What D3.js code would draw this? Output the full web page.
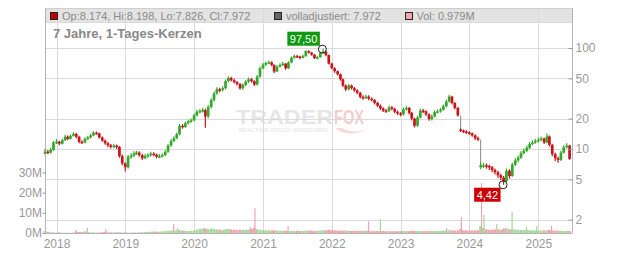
<!DOCTYPE html>
<html><head><meta charset="utf-8">
<script src="https://cdn.jsdelivr.net/npm/d3@7"></script>
<style>
html,body{margin:0;padding:0;background:#fff;}
svg{display:block;font-family:"Liberation Sans",Arial,sans-serif;}
</style></head><body>
<svg id="c" width="632" height="253"></svg>
<script>
// ---------- data (semi-monthly periods, 1st and 16th of each month from Nov 2017) ----------
const startYear = 2017, startMonth = 10; // November 2017 (0-based month)
const firstOpen = 9.0;
const closes = [
 9.4, 9.2, 9.8, 11.6, 11.8, 11.3, 12.2, 13.2, 12.6, 13.5, 14.1, 13.2,
 11.8, 11.6, 12.6, 13.0, 13.6, 14.5, 14.3, 13.0, 12.1, 11.4, 10.9, 10.5,
 10.8, 10.5, 8.5, 7.2, 6.6, 8.4, 8.6, 9.0, 9.2, 8.7, 8.1, 8.5,
 8.7, 9.0, 8.8, 8.4, 8.5, 8.7, 9.4, 10.8, 12.0, 12.8, 14.0, 17.0,
 16.5, 18.0, 18.8, 19.2, 21.5, 23.4, 23.8, 24.3, 21.0, 26.0, 30.5, 35.5,
 39.0, 38.5, 40.0, 47.0, 50.5, 48.0, 46.0, 44.0, 39.9, 43.0, 46.5, 49.0,
 47.0, 43.5, 52.0, 63.0, 68.5, 71.0, 72.0, 68.0, 58.5, 65.5, 68.0, 70.0,
 63.0, 72.0, 80.0, 83.0, 82.5, 80.0, 83.0, 93.0, 90.0, 86.0, 79.5, 81.0,
 89.0, 92.0, 85.0, 70.0, 63.0, 59.0, 55.0, 49.0, 42.5, 39.0, 42.5, 40.0,
 38.0, 36.0, 32.8, 32.0, 33.0, 31.5, 30.5, 28.6, 26.8, 25.2, 24.0, 23.8,
 25.8, 25.0, 23.4, 22.5, 22.0, 24.8, 25.5, 22.8, 20.0, 17.0, 20.5, 24.0,
 23.6, 22.0, 19.8, 21.0, 23.2, 23.6, 24.5, 26.5, 29.5, 33.0, 28.5, 25.5,
 21.5, 15.2, 14.9, 14.6, 14.3, 13.6, 12.8, 12.4, 6.9, 6.9, 6.8, 6.6,
 6.2, 5.9, 5.5, 5.2, 4.8, 6.1, 5.4, 7.0, 7.7, 8.2, 9.1, 9.6,
 10.3, 11.2, 11.6, 12.0, 12.3, 12.7, 11.6, 13.3, 11.0, 8.9, 8.1, 7.8,
 9.2, 10.4, 10.8, 7.97
];
const highs = [
 10.0, 9.8, 10.3, 12.0, 12.5, 12.1, 12.6, 13.8, 13.6, 13.9, 14.7, 14.4,
 13.5, 12.2, 13.0, 13.5, 14.1, 15.0, 14.9, 14.5, 13.3, 12.4, 11.7, 11.2,
 11.3, 11.1, 10.7, 8.8, 7.4, 8.7, 9.1, 9.5, 9.6, 9.5, 8.9, 8.9,
 9.1, 9.4, 9.3, 9.0, 8.9, 9.1, 9.8, 11.2, 12.5, 13.4, 14.6, 17.8,
 17.6, 18.7, 19.5, 20.0, 22.3, 24.4, 24.9, 25.4, 25.0, 27.2, 31.8, 37.0,
 40.8, 40.5, 41.8, 48.8, 52.5, 52.0, 49.5, 47.2, 45.0, 44.5, 48.0, 51.0,
 50.5, 48.0, 54.0, 65.5, 71.0, 73.5, 75.0, 74.0, 69.0, 67.5, 70.5, 72.5,
 71.0, 74.0, 82.5, 86.0, 85.5, 84.0, 86.0, 95.5, 95.0, 91.5, 87.0, 84.0,
 91.0, 97.5, 94.0, 86.0, 71.5, 64.5, 60.0, 56.0, 50.0, 43.5, 44.0, 43.5,
 41.0, 39.0, 36.8, 34.0, 34.5, 34.0, 32.4, 31.2, 29.3, 27.6, 25.9, 24.9,
 26.8, 26.6, 25.6, 24.0, 23.2, 25.8, 26.6, 26.0, 23.3, 20.4, 21.3, 25.0,
 24.9, 24.2, 22.6, 21.9, 24.1, 24.6, 25.5, 27.6, 30.8, 34.5, 33.6, 29.2,
 26.0, 16.0, 15.6, 15.3, 15.0, 14.6, 14.0, 13.3, 7.4, 7.3, 7.2, 7.0,
 6.8, 6.4, 6.1, 5.7, 5.4, 6.4, 6.3, 7.3, 8.1, 8.6, 9.5, 10.1,
 10.8, 11.7, 12.2, 12.6, 12.9, 13.3, 13.0, 14.2, 13.6, 11.3, 9.2, 8.4,
 9.6, 10.9, 11.4, 11.0
];
const lows = [
 8.8, 8.9, 9.0, 9.6, 11.2, 10.9, 11.1, 12.0, 12.2, 12.4, 13.3, 12.8,
 11.4, 11.2, 11.4, 12.3, 12.7, 13.4, 13.9, 12.7, 11.8, 11.0, 10.4, 10.1,
 10.2, 10.0, 8.2, 6.9, 6.0, 6.4, 8.0, 8.3, 8.7, 8.4, 7.8, 7.9,
 8.2, 8.4, 8.5, 8.1, 8.1, 8.3, 8.5, 9.2, 10.5, 11.7, 12.5, 13.7,
 15.9, 16.2, 17.5, 18.2, 18.8, 21.0, 22.6, 23.0, 16.2, 20.2, 25.2, 29.6,
 34.5, 36.5, 37.2, 39.0, 45.8, 46.5, 44.5, 42.5, 38.5, 38.6, 42.0, 45.0,
 45.5, 42.0, 42.5, 51.0, 61.5, 66.5, 69.0, 66.0, 56.5, 57.5, 64.0, 66.5,
 61.0, 62.0, 70.5, 78.5, 80.0, 77.5, 78.5, 82.0, 88.0, 84.0, 77.5, 77.5,
 80.0, 87.5, 83.0, 68.5, 61.5, 57.0, 53.5, 47.5, 41.0, 37.5, 38.0, 38.8,
 36.8, 34.8, 31.6, 30.8, 31.2, 30.4, 29.5, 27.6, 26.0, 24.3, 23.2, 22.8,
 23.2, 24.2, 22.6, 21.7, 21.1, 21.5, 24.0, 22.0, 19.3, 16.3, 16.6, 20.0,
 22.7, 21.2, 19.0, 19.2, 20.5, 22.5, 22.9, 23.9, 25.9, 28.8, 27.6, 24.6,
 21.0, 14.7, 14.4, 14.1, 13.8, 13.2, 12.3, 12.0, 6.3, 6.5, 6.4, 6.2,
 5.9, 5.6, 5.2, 4.9, 4.42, 4.7, 5.1, 5.3, 6.8, 7.4, 8.0, 8.8,
 9.3, 10.0, 10.9, 11.3, 11.6, 11.9, 11.2, 11.4, 10.6, 8.5, 7.6, 7.3,
 7.6, 9.0, 10.1, 7.8
];
const volumes = [ // millions
 1.0, 0.6, 0.3, 0.3, 0.2, 0.3, 0.1, 0.1, 0.1, 0.1, 0.2, 0.6,
 0.5, 0.5, 0.8, 0.6, 0.3, 0.3, 0.2, 0.2, 0.4, 0.5, 0.3, 0.3,
 0.3, 0.3, 0.3, 0.2, 0.3, 0.2, 0.2, 0.3, 0.2, 0.3, 0.3, 0.5,
 0.6, 0.6, 0.7, 0.7, 0.6, 0.8, 0.9, 1.1, 1.2, 1.2, 1.3, 1.5,
 1.2, 1.1, 1.0, 1.0, 1.2, 1.6, 2.0, 2.2, 2.3, 2.0, 2.2, 2.0,
 1.8, 1.6, 1.6, 1.8, 2.0, 1.8, 1.6, 1.5, 1.6, 1.5, 1.6, 1.6,
 2.0, 2.6, 1.8, 1.6, 1.5, 1.4, 1.3, 1.2, 1.4, 1.2, 1.1, 1.1,
 1.2, 1.0, 1.0, 1.0, 1.1, 1.0, 1.0, 1.2, 1.2, 1.1, 1.0, 1.1,
 1.2, 1.3, 1.4, 1.6, 1.4, 1.3, 1.2, 1.2, 1.1, 1.2, 1.1, 1.0,
 1.0, 1.1, 1.0, 1.0, 1.2, 1.0, 0.9, 0.9, 1.0, 0.9, 1.0, 0.9,
 0.9, 0.9, 0.8, 0.9, 0.9, 1.0, 0.9, 0.9, 1.0, 1.1, 1.0, 0.9,
 0.9, 0.9, 1.0, 1.0, 0.9, 0.9, 1.0, 1.2, 1.3, 1.4, 1.3, 1.2,
 1.3, 2.0, 1.4, 1.3, 1.2, 1.2, 1.3, 1.4, 3.5, 2.5, 1.8, 1.6,
 1.6, 1.8, 1.8, 1.6, 2.2, 2.4, 1.8, 1.9, 1.7, 1.6, 1.5, 1.5,
 1.5, 1.4, 1.3, 1.2, 1.3, 1.2, 1.3, 1.3, 1.5, 1.3, 1.2, 1.1,
 1.1, 1.0, 1.1, 1.0
];
// opening gaps (period start date -> open after the gap)
const gapDates = ["2023-11-16", "2024-03-01"];
const gapOpens = [15.6, 6.6];
// single-day volume spikes
const spikeDates = ["2018-04-15","2018-06-13","2018-09-20","2019-09-15","2019-10-05","2020-10-25","2020-11-19","2021-05-14","2022-07-15","2022-09-16","2023-09-02","2023-11-20","2024-03-06","2024-03-19","2024-05-26","2024-08-15","2024-10-30","2024-12-23","2025-03-12"];
const spikeVols  = [1.5, 2.6, 2.0, 4.5, 2.5, 3.0, 12.2, 3.4, 5.8, 6.9, 2.5, 7.9, 24.7, 9.0, 4.5, 10.5, 3.0, 3.4, 3.5];
const spikeUp    = [false,false,false,false,true,false,false,false,false,true,false,false,false,true,true,true,true,true,false];
// extremes
const highMark = {date: "2021-11-12", value: 97.50};
const lowMark  = {date: "2024-06-28", value: 4.42};
// axes
const yearTicks = [2018, 2019, 2020, 2021, 2022, 2023, 2024, 2025];
const priceTicks = [2, 5, 10, 20, 50, 100];
const volTicks = [0, 10, 20, 30];
// texts
const legendOHLC = "Op:8.174, Hi:8.198, Lo:7.826, Cl:7.972";
const legendAdj = "volladjustiert: 7.972";
const legendVol = "Vol: 0.979M";
const title = "7 Jahre, 1-Tages-Kerzen";

// ---------- build ----------
const parse = d3.timeParse("%Y-%m-%d");
const dates = closes.map((_, i) => new Date(startYear, startMonth + Math.floor(i / 2), i % 2 ? 16 : 1));
const gapMap = new Map(gapDates.map((d, i) => [+parse(d), gapOpens[i]]));
const candles = closes.map((c, i) => {
  const prev = i === 0 ? firstOpen : closes[i - 1];
  const g = gapMap.get(+dates[i]);
  return {date: dates[i], prev, open: g !== undefined ? g : prev, gap: g !== undefined, close: c, high: highs[i], low: lows[i], vol: volumes[i]};
});

const L = 45.5, R = 572.5, T = 8.5, B = 233;
const x = d3.scaleTime().domain([new Date(2018, 0, 1), new Date(2025, 0, 1)]).range([56.5, 538.3]);
const y = d3.scaleLog().domain([10, 100]).range([149, 48]);
const yv = d3.scaleLinear().domain([0, 30]).range([B, 172.4]);

const svg = d3.select("#c");
const GRID = "#dadada", AX = "#b4b4b4", TXT = "#999";

// legend band
svg.append("rect").attr("x", L).attr("y", T).attr("width", R - L).attr("height", 13.5).attr("fill", "#e3e3e3");

// watermark
const wm = svg.append("g");
wm.append("text").attr("x", 236).attr("y", 124).attr("font-size", 20).attr("font-weight", 900)
  .attr("textLength", 97).attr("lengthAdjust", "spacingAndGlyphs").attr("fill", "#e6e6e6").text("TRADER");
wm.append("text").attr("x", 334).attr("y", 124).attr("font-size", 20).attr("font-weight", 900)
  .attr("textLength", 30).attr("lengthAdjust", "spacingAndGlyphs").attr("fill", "#f6cdcd").text("FOX");
wm.append("text").attr("x", 239).attr("y", 131.5).attr("font-size", 5.5).attr("font-weight", 700)
  .attr("textLength", 89).attr("lengthAdjust", "spacingAndGlyphs").attr("fill", "#e9e9e9").text("REALTIME STOCK SCREENING");
wm.append("path").attr("d", "M335,128 C345,136 362,136 370,124 C366,132 352,134 342,128 Z").attr("fill", "#f8dada");

// grid
svg.append("g").selectAll("line").data(yearTicks).join("line")
  .attr("x1", d => Math.round(x(new Date(d, 0, 1))) + 0.5).attr("x2", d => Math.round(x(new Date(d, 0, 1))) + 0.5)
  .attr("y1", T).attr("y2", B).attr("stroke", GRID);
svg.append("g").selectAll("line").data(priceTicks).join("line")
  .attr("x1", L).attr("x2", R).attr("y1", d => Math.round(y(d)) + 0.5).attr("y2", d => Math.round(y(d)) + 0.5)
  .attr("stroke", GRID);
svg.append("line").attr("x1", L).attr("x2", R).attr("y1", 22.5).attr("y2", 22.5).attr("stroke", GRID);

// frame
svg.append("line").attr("x1", L).attr("x2", R).attr("y1", T).attr("y2", T).attr("stroke", "#cfcfcf");
svg.append("line").attr("x1", L).attr("x2", L).attr("y1", T).attr("y2", B).attr("stroke", AX);
svg.append("line").attr("x1", R).attr("x2", R).attr("y1", T).attr("y2", B).attr("stroke", AX);
svg.append("line").attr("x1", L).attr("x2", R).attr("y1", B + 0.5).attr("y2", B + 0.5).attr("stroke", AX);

// volume bars
const step = x(dates[1]) - x(dates[0]);
const PINK = "#f0a3ad", LGREEN = "#a6d99c";
svg.append("g").selectAll("rect").data(candles).join("rect")
  .attr("x", d => x(d.date) - step / 2).attr("width", step * 0.95)
  .attr("y", d => yv(d.vol)).attr("height", d => B - yv(d.vol))
  .attr("fill", d => d.close >= d.open ? LGREEN : PINK);
svg.append("g").selectAll("rect").data(spikeDates.map((d, i) => ({date: parse(d), vol: spikeVols[i], up: spikeUp[i]}))).join("rect")
  .attr("x", d => x(d.date) - 0.6).attr("width", 1.2)
  .attr("y", d => yv(d.vol)).attr("height", d => B - yv(d.vol))
  .attr("fill", d => d.up ? LGREEN : PINK);

// candles
const GREEN = "#34a82a", RED = "#c8141a";
const cg = svg.append("g");
cg.selectAll("line.gap").data(candles.filter(d => d.gap)).join("line").attr("class", "gap")
  .attr("x1", d => x(d.date)).attr("x2", d => x(d.date))
  .attr("y1", d => y(d.prev)).attr("y2", d => y(d.open)).attr("stroke", "#888").attr("stroke-width", 1);
cg.selectAll("line.wick").data(candles).join("line").attr("class", "wick")
  .attr("x1", d => x(d.date)).attr("x2", d => x(d.date))
  .attr("y1", d => y(d.high)).attr("y2", d => y(d.low))
  .attr("stroke", d => d.close >= d.open ? GREEN : RED).attr("stroke-width", 1.2);
cg.selectAll("rect").data(candles).join("rect")
  .attr("x", d => x(d.date) - 1.35).attr("width", 2.7)
  .attr("y", d => Math.min(y(d.open), y(d.close)))
  .attr("height", d => Math.max(1.5, Math.abs(y(d.open) - y(d.close))))
  .attr("fill", d => d.close >= d.open ? GREEN : RED);

// axes
const pAx = svg.append("g").attr("transform", `translate(${R},0)`)
  .call(d3.axisRight(y).tickValues(priceTicks).tickFormat(d3.format("d")).tickSizeInner(-4).tickSizeOuter(0).tickPadding(3));
const vAx = svg.append("g").attr("transform", `translate(${L},0)`)
  .call(d3.axisLeft(yv).tickValues(volTicks).tickFormat(d => d + "M").tickSizeInner(3).tickSizeOuter(0).tickPadding(0.5));
const xAx = svg.append("g").attr("transform", `translate(0,${B})`)
  .call(d3.axisBottom(x).tickValues(yearTicks.map(d => new Date(d, 0, 1))).tickFormat(d3.timeFormat("%Y")).tickSize(0).tickPadding(6));
[pAx, vAx, xAx].forEach(a => {
  a.select(".domain").remove();
  a.selectAll("line").attr("stroke", "#999");
  a.selectAll("text").attr("fill", TXT).attr("font-size", 12).attr("font-family", '"Liberation Sans",Arial,sans-serif');
});

// legend
const lg = svg.append("g").attr("font-size", 11).attr("fill", "#8a8a8a");
[[50.5, "#c00000", 62, legendOHLC], [274.5, "#666666", 286, legendAdj], [405.5, "#f2a8b4", 416.5, legendVol]].forEach(([sx, col, tx, t]) => {
  lg.append("rect").attr("x", sx).attr("y", 12.5).attr("width", 7).attr("height", 7).attr("fill", col).attr("stroke", "#222");
  lg.append("text").attr("x", tx).attr("y", 19.7).text(t);
});
svg.append("text").attr("x", 53).attr("y", 38).attr("font-size", 13).attr("font-weight", "bold").attr("fill", "#888").text(title);

// extreme markers
const fmt = v => d3.format(".2f")(v).replace(".", ",");
function mark(m, col, above) {
  const cx = x(parse(m.date)), cy = y(m.value);
  const t = svg.append("text").attr("font-size", 11).attr("fill", "#fff").text(fmt(m.value));
  const w = t.node().getComputedTextLength() + 5, h = 14;
  const bx = cx - 2.5 - w, by = above ? cy - 3.4 - h : cy + 2.9;
  svg.insert("rect", () => t.node()).attr("x", bx).attr("y", by).attr("width", w).attr("height", h).attr("fill", col);
  t.attr("x", bx + 2.5).attr("y", by + h / 2 + 4);
  svg.append("circle").attr("cx", cx).attr("cy", cy).attr("r", 4).attr("fill", "none").attr("stroke", "#222").attr("stroke-width", 1);
}
mark(highMark, "#119911", true);
mark(lowMark, "#cc0000", false);
</script>
</body></html>
